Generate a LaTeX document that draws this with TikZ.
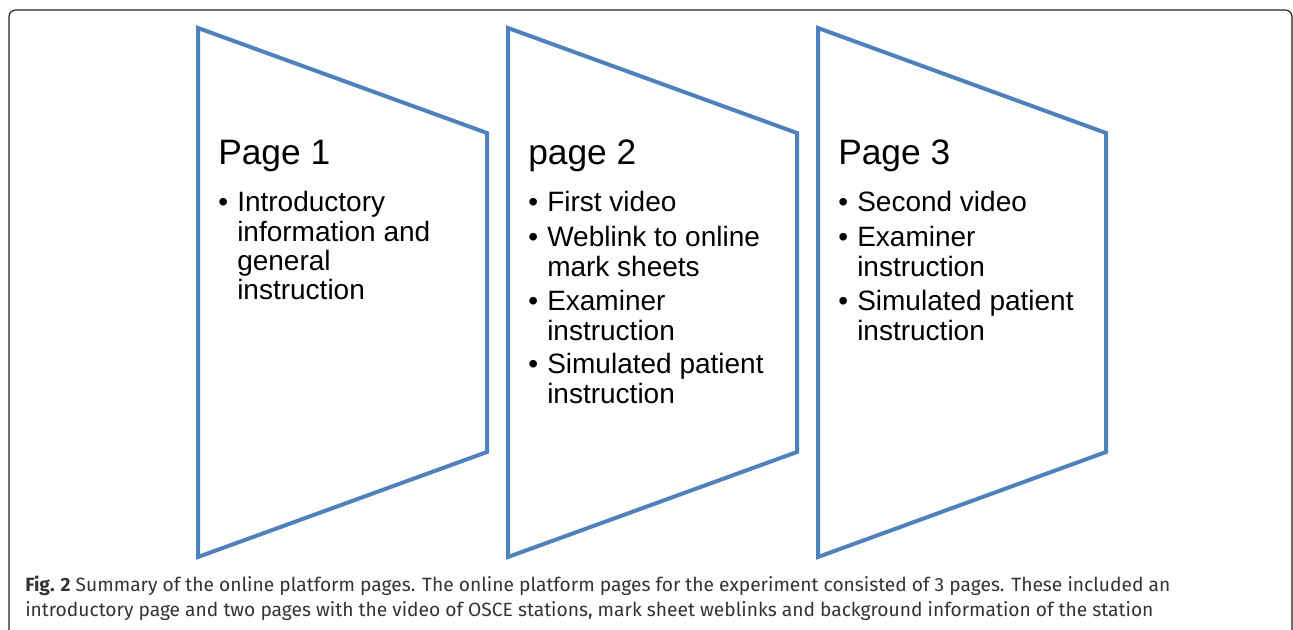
\documentclass[tikz,border=0pt]{standalone}
\usepackage{fontspec}
\setmainfont{Liberation Sans}
\newfontfamily\capfont{Fira Sans}
\definecolor{pageblue}{HTML}{4F81BD}
\definecolor{captext}{HTML}{333333}
\definecolor{framegray}{HTML}{222222}

% one bullet point: bullet, then a top-aligned block of manually broken lines
\newcommand{\bulletline}[1]{\makebox[14.25pt][l]{\textbullet}\parbox[t]{220pt}{\raggedright #1}}

\begin{document}
\begin{tikzpicture}[x=0.75pt,y=-0.75pt,
  pageshape/.style={draw=pageblue,line width=3pt,line join=miter},
  headtext/.style={anchor=base west,inner sep=0pt,font=\fontsize{26.5}{30}\selectfont},
  itemtext/.style={anchor=base west,inner sep=0pt,font=\fontsize{21}{21.9}\selectfont},
  captext/.style={anchor=base west,inner sep=0pt,text=captext,font=\capfont\fontsize{14.4}{19.5}\selectfont}]

  \useasboundingbox (0,0) rectangle (1293,630);

  % outer frame of the figure panel
  \begin{scope}
    \clip (0,0) rectangle (1293,630);
    \draw[framegray,line width=0.9pt,rounded corners=5pt] (9,10) rectangle (1292,640);
  \end{scope}

  % the three page shapes
  \draw[pageshape] (198,28) -- (487,133) -- (487,452) -- (198,557) -- cycle;
  \draw[pageshape] (508,28) -- (797,133) -- (797,452) -- (508,557) -- cycle;
  \draw[pageshape] (818,28) -- (1106,133) -- (1106,452) -- (818,557) -- cycle;

  % page 1
  \node[headtext] (h1) at (218,165) {Page 1};
  \node[itemtext] (a1) at (218,212) {\bulletline{Introductory\\information and\\general\\instruction}};

  % page 2
  \node[headtext] (h2) at (528,165) {page 2};
  \node[itemtext] (b1) at (528,212) {\bulletline{First video}};
  \node[itemtext] (b2) at (528,247) {\bulletline{Weblink to online\\mark sheets}};
  \node[itemtext] (b3) at (528,311) {\bulletline{Examiner\\instruction}};
  \node[itemtext] (b4) at (528,374) {\bulletline{Simulated patient\\instruction}};

  % page 3
  \node[headtext] (h3) at (838,165) {Page 3};
  \node[itemtext] (c1) at (838,212) {\bulletline{Second video}};
  \node[itemtext] (c2) at (838,247) {\bulletline{Examiner\\instruction}};
  \node[itemtext] (c3) at (838,311) {\bulletline{Simulated patient\\instruction}};

  % caption
  \node[captext] (cap1) at (25,592) {\textbf{Fig. 2} Summary of the online platform pages. The online platform pages for the experiment consisted of 3 pages. These included an};
  \node[captext] (cap2) at (25,617) {introductory page and two pages with the video of OSCE stations, mark sheet weblinks and background information of the station};
\end{tikzpicture}
\end{document}
